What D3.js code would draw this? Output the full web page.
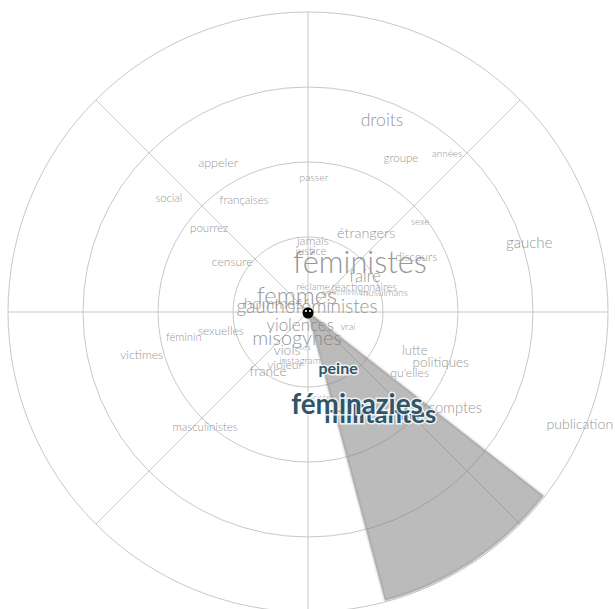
<!DOCTYPE html>
<html>
<head>
<meta charset="utf-8">
<script src="https://cdn.jsdelivr.net/npm/d3@7"></script>
<style>
  body { margin: 0; background: #fff; }
  svg text { font-family: Lato, "Open Sans", sans-serif; }
</style>
</head>
<body>
<div id="chart"></div>
<script>
// words, polar position (compass degrees, ring units) and weight
const words = ["droits", "groupe", "années", "appeler", "passer", "social", "françaises", "sexe",
  "pourrez", "étrangers", "jamais", "justice", "censure", "féministes", "discours", "gauche",
  "faire", "réclame", "réactionnaires", "antiféministes", "musulmans", "femmes", "hommes",
  "gauchoféministes", "violences", "vrai", "misogynes", "viols", "ses", "instagram", "violeur",
  "france", "racistes", "lutte", "politiques", "qu'elles", "comptes", "publication", "victimes",
  "féminin", "sexuelles", "masculinistes", "data", "peine", "militantes", "féminazies"];
const angles = [21.1, 31.1, 41.3, 328.9, 2.5, 309.4, 330.3, 51.2,
  310.3, 36.3, 4.0, 2.8, 303.3, 46.1, 63.0, 72.7,
  57.7, 11.3, 65.9, 61.6, 75.3, 325.5, 284.4,
  349, 211.6, 110.6, 202.9, 208.9, 184.9, 189.5, 203.5,
  214.1, 172.1, 109.6, 110.6, 120.9, 123.1, 112.4, 255.5,
  258.6, 257.7, 221.8, 136.1, 151.8, 144.8, 152.0];
const distances = [2.74, 2.40, 2.81, 2.32, 1.80, 2.40, 1.72, 1.92,
  1.73, 1.31, 0.95, 0.81, 1.21, 0.96, 1.62, 3.09,
  0.90, 0.34, 0.82, 0.56, 1.05, 0.26, 0.48,
  0.07, 0.20, 0.57, 0.38, 0.58, 0.47, 0.65, 0.77,
  0.95, 1.16, 1.51, 1.89, 1.58, 2.34, 3.92, 2.29,
  1.69, 1.19, 2.06, 1.92, 0.85, 1.67, 1.39];
const weights = [55, 36, 31, 39, 33, 35, 36, 30,
  36, 45, 38, 35, 38, 96, 37, 47,
  52, 31, 34, 25, 31, 74, 50,
  59, 53, 30, 62, 44, 27, 31, 38,
  43, 28, 41, 42, 38, 46, 44, 38,
  35, 37, 36, 36, 50, 80, 87];

const rings = [1, 2, 3, 4];
const spokes = [0, 45, 90, 135, 180, 225, 270, 315];
const sweep = [128, 165];

const width = 615, height = 609;
const cx = 308, cy = 312;

const r = d3.scaleLinear().domain([0, 4]).range([0, 300]);
const a = d3.scaleLinear().domain([0, 360]).range([0, 2 * Math.PI]);
const fontSize = d3.scaleLinear().domain([0, 100]).range([0, 32]);

const svg = d3.select("#chart").append("svg")
  .attr("width", width)
  .attr("height", height)
  .append("g")
  .attr("transform", "translate(" + cx + "," + cy + ")");

// Grid
svg.selectAll(".ring")
  .data(rings)
  .enter()
  .append("circle")
  .attr("r", d => r(d))
  .attr("fill", "none")
  .attr("stroke", "#c8c8c8")
  .attr("stroke-width", 1);

svg.selectAll(".spoke")
  .data(spokes)
  .enter()
  .append("line")
  .attr("x1", 0).attr("y1", 0)
  .attr("x2", d => r(4) * Math.sin(a(d)))
  .attr("y2", d => -r(4) * Math.cos(a(d)))
  .attr("stroke", "#c8c8c8")
  .attr("stroke-width", 1);

const items = words.map((w, i) => ({ word: w, angle: angles[i], dist: distances[i], weight: weights[i] }));
const inSweep = d => d.angle >= sweep[0] && d.angle <= sweep[1];

const place = sel => sel
  .attr("x", d => r(d.dist) * Math.sin(a(d.angle)))
  .attr("y", d => -r(d.dist) * Math.cos(a(d.angle)))
  .attr("dy", "0.35em")
  .attr("text-anchor", "middle")
  .style("font-size", d => fontSize(d.weight) + "px")
  .text(d => d.word);

// grey words
svg.selectAll(".word")
  .data(items.filter(d => !inSweep(d)))
  .enter()
  .append("text")
  .attr("fill", "#979797")
  .style("font-weight", 300)
  .call(place);

// sweep wedge
const defs = d3.select("svg").append("defs");
defs.append("filter").attr("id", "blur")
  .append("feGaussianBlur").attr("stdDeviation", 1);

const wedge = d3.arc()({ innerRadius: 3, outerRadius: r(3.98), startAngle: a(sweep[0]), endAngle: a(sweep[1]) });

svg.append("path")
  .attr("d", wedge)
  .attr("fill", "none")
  .attr("stroke", "#999")
  .attr("stroke-width", 1.5)
  .attr("stroke-opacity", 0.6)
  .attr("filter", "url(#blur)");

svg.append("path")
  .attr("d", wedge)
  .attr("fill", "#777")
  .attr("fill-opacity", 0.5)
  .attr("stroke", "#aaa")
  .attr("stroke-width", 0.6);

// highlighted words
svg.selectAll(".hot")
  .data(items.filter(inSweep))
  .enter()
  .append("text")
  .attr("fill", "#2f5568")
  .attr("stroke", "#fff")
  .attr("stroke-opacity", 0.8)
  .attr("stroke-width", 3)
  .attr("paint-order", "stroke")
  .style("font-weight", 700)
  .call(place);

// center marker
svg.append("circle").attr("cy", 1).attr("r", 5.5).attr("fill", "#000");
svg.append("circle").attr("cx", -2).attr("cy", -1).attr("r", 1.1).attr("fill", "#fff");
svg.append("circle").attr("cx", 2).attr("cy", -1).attr("r", 1.1).attr("fill", "#fff");
</script>
</body>
</html>
